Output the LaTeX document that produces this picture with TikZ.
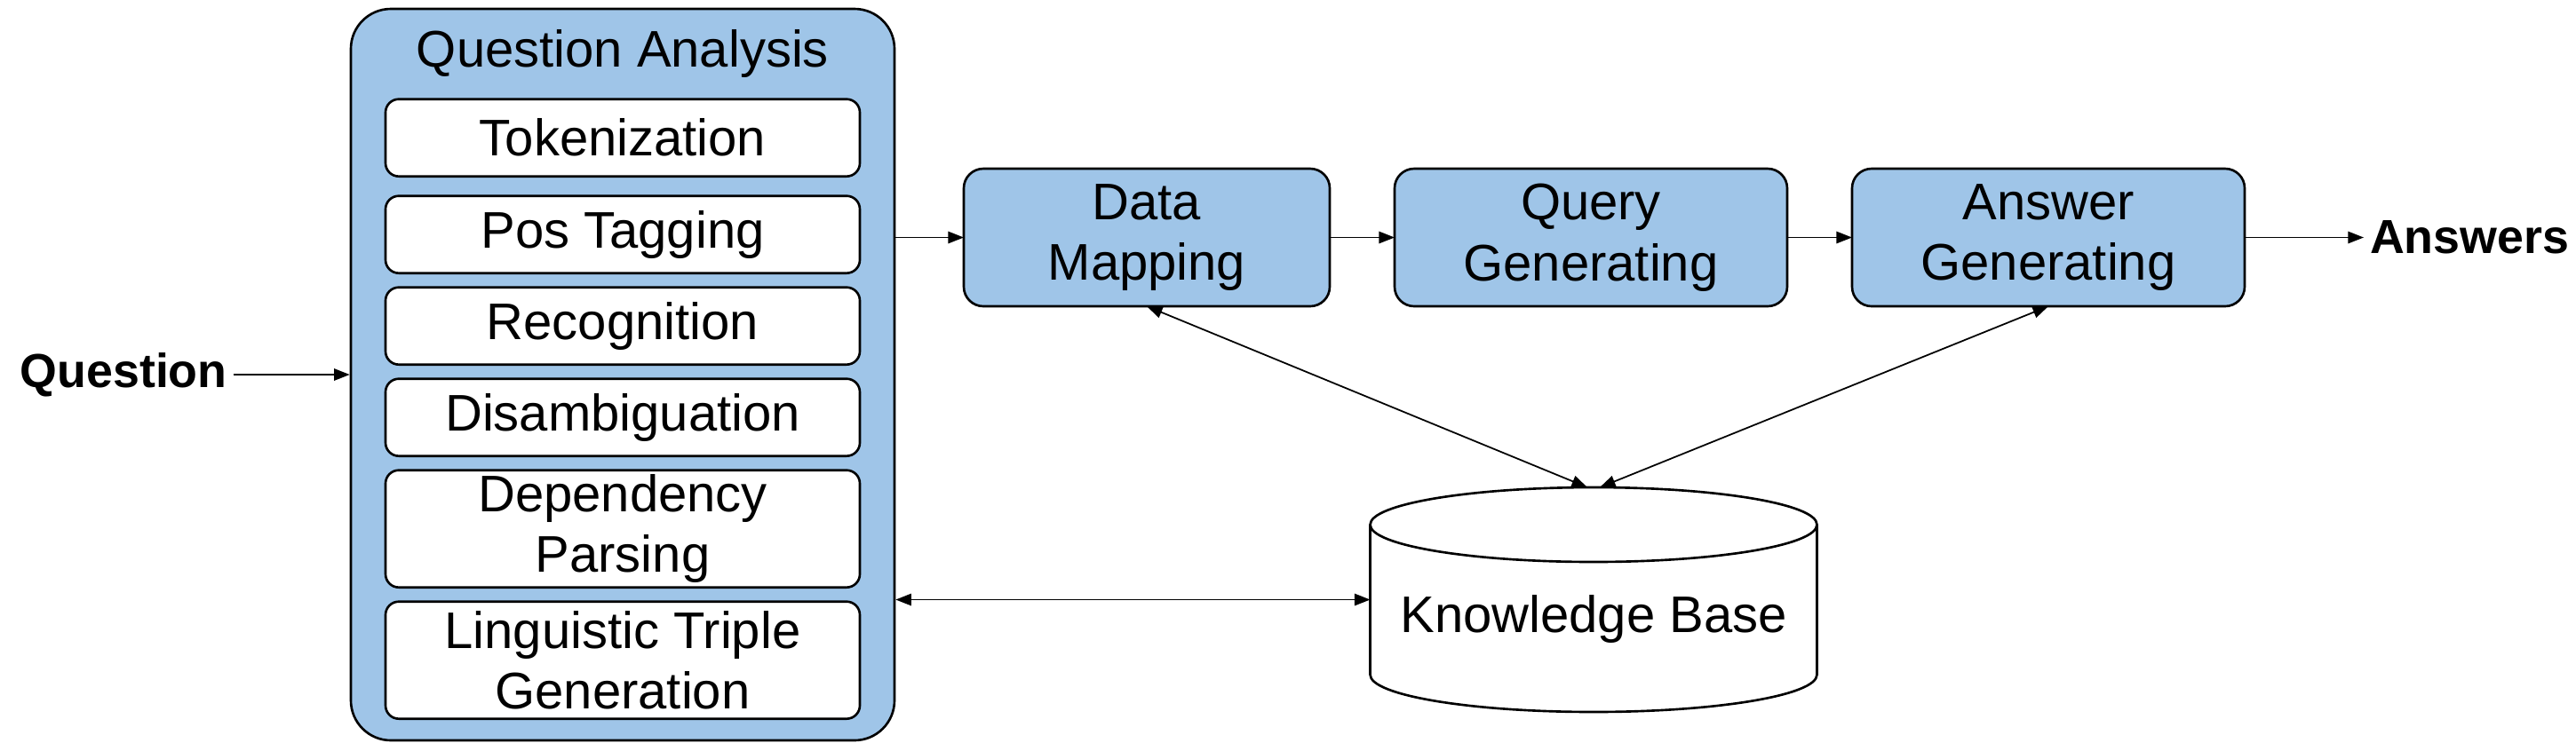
\documentclass[tikz,border=0pt]{standalone}
\usepackage{fontspec}
\setmainfont{Liberation Sans}
\usepackage{xcolor}
\usepackage{tikz}
\usetikzlibrary{arrows.meta, positioning}

\definecolor{boxblue}{HTML}{9FC5E8}

\begin{document}
\begin{tikzpicture}[>={Triangle[length=5pt, width=3.8pt]}, line width=0.5pt,
                    node distance=0.16cm,
                    font=\fontsize{16.5}{19.5}\selectfont]
\tikzstyle{outer}=[shape=rectangle, draw=black, fill=boxblue, line width=0.75pt,
                    rounded corners=0.45cm, minimum width=6.12cm, minimum height=8.24cm]
\tikzstyle{sub}=[shape=rectangle, draw=black, fill=white, line width=0.75pt,
                    rounded corners=0.15cm, inner sep=0pt, outer sep=0pt, align=center,
                    minimum width=5.34cm, minimum height=0.87cm]
\tikzstyle{subtall}=[sub, minimum height=1.32cm]
\tikzstyle{proc}=[shape=rectangle, draw=black, fill=boxblue, line width=0.75pt,
                    rounded corners=0.22cm, inner sep=0pt, outer sep=0pt, align=center,
                    minimum width=4.42cm, minimum height=1.55cm]
\tikzstyle{io}=[inner sep=0.07cm, outer sep=0pt, font=\fontsize{15.3}{18}\selectfont\bfseries]
\tikzstyle{store}=[shape=rectangle, outer sep=0pt,
                    minimum width=5.03cm, minimum height=2.53cm]
\tikzstyle{cyl}=[draw=black, fill=white, line width=0.75pt]
  \useasboundingbox (0,0) rectangle (29,-8.45);
  %
  \node[outer] (qa) at (7.01,-4.22) {};
  \node (qatitle) at (7.01,-0.6) {Question Analysis};
  \node[sub] (tok) [below=1.03cm of qa.north] {Tokenization};
  \node[sub] (pos) [below=0.22cm of tok] {Pos Tagging};
  \node[sub] (rec) [below=of pos] {Recognition};
  \node[sub] (dis) [below=of rec] {Disambiguation};
  \node[subtall] (dep) [below=of dis] {Dependency\\Parsing};
  \node[subtall] (ltg) [below=of dep] {Linguistic Triple\\Generation};
  %
  \node[io] (question) [left=1.31cm of qa] {Question};
  %
  \node[proc, minimum width=4.12cm] (dm) at (12.91,-2.675) {Data\\Mapping};
  \node[proc] (qg) [right=0.73cm of dm] {Query\\Generating};
  \node[proc] (ag) [right=0.73cm of qg] {Answer\\Generating};
  \node[io] (answers) [right=1.34cm of ag] {Answers};
  %
  \node[store] (kb) at (17.94,-6.755) {};
  \draw[cyl] ([yshift=-0.42cm]kb.north west) -- ([yshift=0.42cm]kb.south west)
      arc[start angle=180, end angle=360, x radius=2.515cm, y radius=0.42cm]
      -- ([yshift=-0.42cm]kb.north east)
      arc[start angle=0, end angle=180, x radius=2.515cm, y radius=0.42cm] -- cycle;
  \draw[cyl] ([yshift=-0.42cm]kb.north west)
      arc[start angle=180, end angle=360, x radius=2.515cm, y radius=0.42cm];
  \node (kbtext) at (17.94,-6.97) {Knowledge Base};
  %
  \path[->]  (question) edge (qa);
  \path[->]  (qa.east |- dm) edge (dm);
  \path[->]  (dm) edge (qg);
  \path[->]  (qg) edge (ag);
  \path[->]  (ag) edge (answers);
  %
  \path[<->] (qa.east |- kb) edge (kb);
  \path[<->] (dm.south) edge ([xshift=-0.07cm]kb.north);
  \path[<->] (ag.south) edge ([xshift=0.07cm]kb.north);
\end{tikzpicture}
\end{document}
